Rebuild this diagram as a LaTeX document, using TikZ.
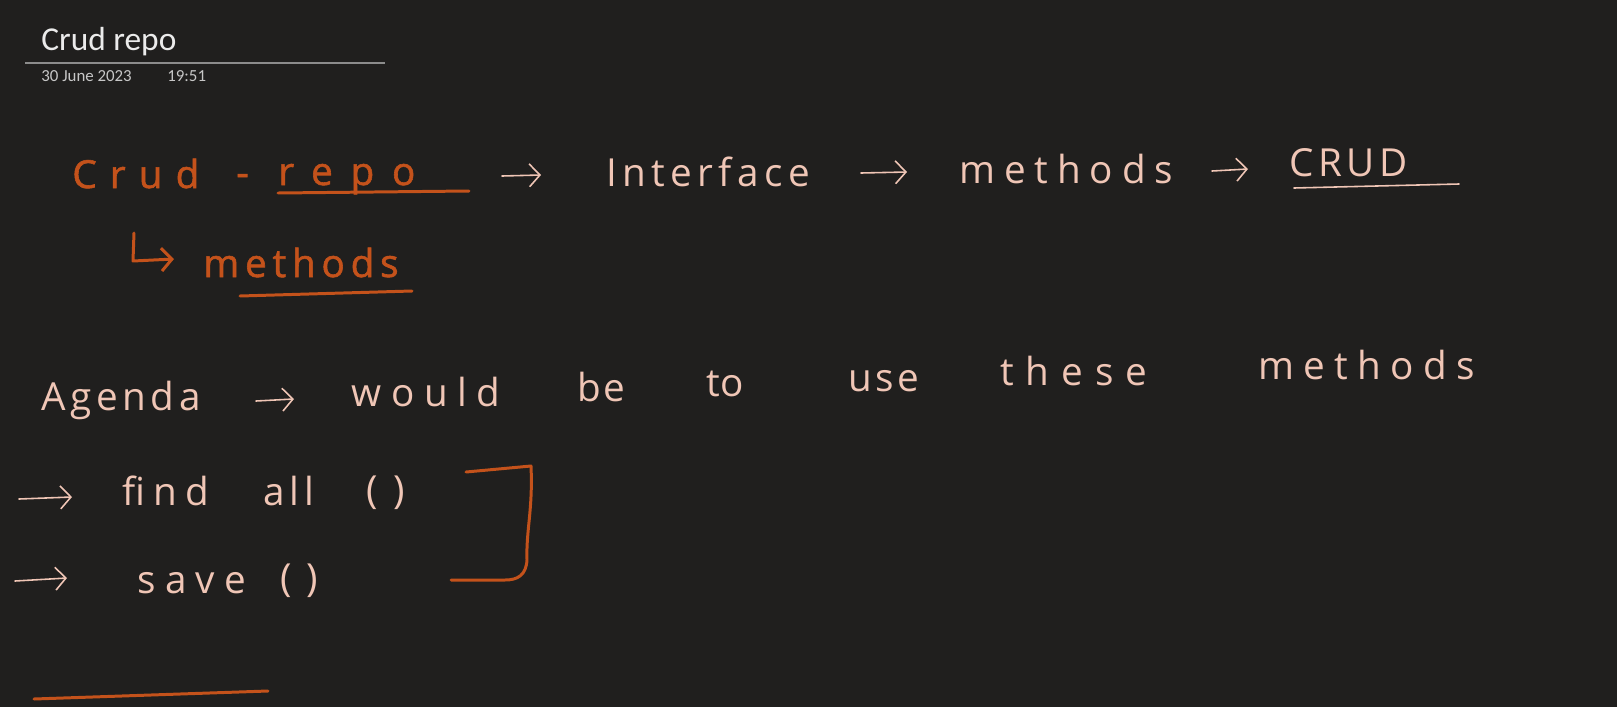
\documentclass[tikz,border=0pt]{standalone}
\usepackage{fontspec}
\setmainfont{Carlito}
\newfontfamily\handfont{Open Sans}
\usetikzlibrary{arrows.meta}

\definecolor{pagebg}{HTML}{201F1E}
\definecolor{inkorange}{HTML}{C4521B}
\definecolor{inkpink}{HTML}{F0C6B6}
\definecolor{rulegray}{HTML}{8C8C8C}

\begin{document}
\begin{tikzpicture}[x=0.02cm, y=-0.02cm,
  hand/.style={font=\handfont\fontsize{22}{26}\selectfont\addfontfeatures{LetterSpace=#1}, inner sep=0pt, anchor=base west, text=inkpink},
  redink/.style={text=inkorange, execute at begin node={\addfontfeatures{FakeBold=1.5}}},
  pen/.style={draw=inkpink, line width=0.9pt, line cap=round, line join=round},
  brush/.style={draw=inkorange, line width=1.7pt, line cap=round, line join=round},
  tip/.style={-{Straight Barb[length=6pt, width=13pt]}}]

  \fill[pagebg] (0,0) rectangle (1617,707);
  \useasboundingbox (0,0) rectangle (1617,707);

  % page header
  \node [anchor=base west, inner sep=0pt, text=white!92!black, font=\fontsize{19}{22}\selectfont] (title) at (41,50) {Crud repo};
  \draw [rulegray, line width=0.6pt] (25,63) -- (385,63);
  \node [anchor=base west, inner sep=0pt, text=white!78!black, font=\fontsize{9.6}{12}\selectfont] (date) at (41,81) {30 June 2023};
  \node [anchor=base west, inner sep=0pt, text=white!78!black, font=\fontsize{9.6}{12}\selectfont] (time) at (167,81) {19:51};

  % first line
  \node [hand=34, redink] (crud) at (72,188) {Crud};
  \node [hand=0, redink] (dash) at (236,186) {-};
  \node [hand=46, redink] (repo) at (278,185) {repo};
  \draw [brush] (278,193) -- (469,191);
  \draw [pen, tip] (502,176) -- (541,175);
  \node [hand=14] (iface) at (606,186) {Interface};
  \draw [pen, tip] (861,173) -- (907,172);
  \node [hand=23] (meth) at (959,183) {methods};
  \draw [pen, tip] (1212,171) -- (1248,169);
  \node [hand=12] (crudcaps) at (1289,176) {CRUD};
  \draw [pen] (1294,188) -- (1459,184);

  % hook to methods
  \draw [brush, tip] (134,233) -- (133,261) -- (174,259);
  \node [hand=15, redink] (methcrud) at (203,277) {methods};
  \draw [brush] (240,296) -- (412,291);

  % agenda line
  \node [hand=12] (agenda) at (41,410) {Agenda};
  \draw [pen, tip] (256,401) -- (294,399);
  \node [hand=25] (would) at (351,406) {would};
  \node [hand=6] (be) at (577,401) {be};
  \node [hand=0] (to) at (706,396) {to};
  \node [hand=9] (use) at (848,391) {use};
  \node [hand=31] (these) at (1000,385) {these};
  \node [hand=24] (methb) at (1258,379) {methods};

  % list
  \draw [pen, tip] (19,499) -- (72,497);
  \node [hand=21] (find) at (122,505) {find};
  \node [hand=13] (all) at (263,505) {all};
  \node [hand=41] (parone) at (366,503) {()};
  \draw [pen, tip] (15,581) -- (67,578);
  \node [hand=24] (save) at (137,593) {save};
  \node [hand=37] (partwo) at (280,591) {()};

  % bracket and bottom stroke
  \draw [brush] (466,472) -- (531,466) .. controls (533,510) and (526,530) .. (527,560)
    .. controls (526,575) and (518,580) .. (505,580) -- (451,580);
  \draw [brush] (34,699) -- (268,691);
\end{tikzpicture}
\end{document}
